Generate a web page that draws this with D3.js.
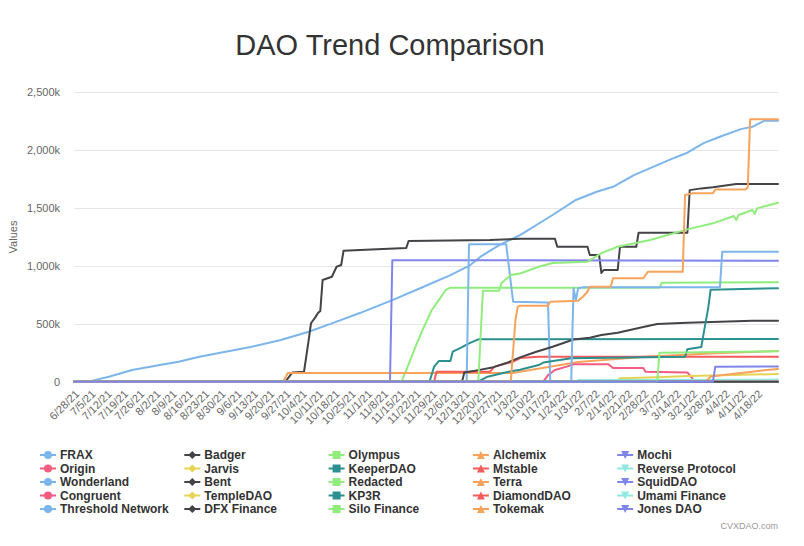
<!DOCTYPE html>
<html>
<head>
<meta charset="utf-8">
<script src="https://cdn.jsdelivr.net/npm/d3@7"></script>
<style>
  body { margin: 0; background: #fff; }
  svg { display: block; font-family: "Liberation Sans", Arial, sans-serif; }
</style>
</head>
<body>
<div id="chart"></div>
<script>
// values are in thousands
var tickLabels = ["6/28/21","7/5/21","7/12/21","7/19/21","7/26/21","8/2/21","8/9/21","8/16/21","8/23/21","8/30/21",
  "9/6/21","9/13/21","9/20/21","9/27/21","10/4/21","10/11/21","10/18/21","10/25/21","11/1/21","11/8/21",
  "11/15/21","11/22/21","11/29/21","12/6/21","12/13/21","12/20/21","12/27/21","1/3/22","1/10/22","1/17/22",
  "1/24/22","1/31/22","2/7/22","2/14/22","2/21/22","2/28/22","3/7/22","3/14/22","3/21/22","3/28/22",
  "4/4/22","4/11/22","4/18/22"];
var firstDay = "6/28/21", lastDay = "4/27/22";
var yTicks = [0, 500, 1000, 1500, 2000, 2500];

var frax = [["6/28/21",0],["7/5/21",5],["7/13/21",43],["7/23/21",101],["8/4/21",144],["8/12/21",173],["8/21/21",216],
  ["9/12/21",300],["9/25/21",360],["10/7/21",432],["10/17/21",504],["10/29/21",593],["11/12/21",705],["11/24/21",807],
  ["12/7/21",921],["12/15/21",1000],["12/20/21",1080],["12/28/21",1180],["1/6/22",1267],["1/20/22",1440],["1/30/22",1570],
  ["2/8/22",1641],["2/15/22",1684],["2/24/22",1785],["3/3/22",1845],["3/12/22",1923],["3/19/22",1978],["3/26/22",2061],
  ["4/2/22",2116],["4/11/22",2182],["4/16/22",2202],["4/21/22",2254],["4/27/22",2254]];
var badger = [["6/28/21",0],["9/27/21",0],["9/30/21",80],["10/5/21",86],["10/7/21",360],["10/8/21",505],["10/10/21",560],
  ["10/11/21",593],["10/12/21",610],["10/13/21",878],["10/17/21",907],["10/19/21",993],["10/21/21",1008],["10/22/21",1131],
  ["11/3/21",1143],["11/18/21",1155],["11/19/21",1215],["12/24/21",1224],["1/6/22",1235],["1/21/22",1235],["1/22/22",1166],
  ["2/4/22",1166],["2/5/22",1094],["2/9/22",1094],["2/10/22",939],["2/11/22",965],["2/17/22",965],["2/18/22",1166],
  ["2/25/22",1166],["2/26/22",1287],["3/19/22",1287],["3/20/22",1655],["3/25/22",1670],["3/30/22",1680],["4/9/22",1707],
  ["4/27/22",1707]];
var olympus = [["6/28/21",0],["11/16/21",0],["11/18/21",101],["11/22/21",302],["11/25/21",446],["11/29/21",619],
  ["12/2/21",705],["12/5/21",792],["12/7/21",812],["3/7/22",812],["3/8/22",855],["4/27/22",860]];
var alchemix = [["6/28/21",0],["9/26/21",0],["9/28/21",75],["1/3/22",75],["1/6/22",86],["1/31/22",170],["3/1/22",215],
  ["3/31/22",245],["4/27/22",265]];
var mochi = [["6/28/21",0],["11/11/21",0],["11/12/21",1050],["4/27/22",1045]];
var origin = [["6/28/21",0],["1/16/22",0],["1/18/22",57],["1/21/22",101],["1/26/22",130],["1/29/22",150],["2/13/22",150],
  ["2/15/22",118],["2/28/22",118],["3/1/22",86],["3/19/22",80],["3/21/22",32],["3/22/22",0],["4/27/22",0]];
var jarvis = [["6/28/21",0],["2/16/22",0],["2/18/22",29],["3/6/22",38],["3/20/22",49],["4/27/22",66]];
var keeperDAO = [["6/28/21",0],["11/28/21",0],["11/30/21",130],["12/2/21",178],["12/7/21",178],["12/8/21",259],
  ["12/11/21",288],["12/15/21",331],["12/19/21",366],["4/27/22",369]];
var mstable = [["6/28/21",0],["11/30/21",0],["12/1/21",86],["12/24/21",86],["12/26/21",130],["1/3/22",173],
  ["1/6/22",204],["1/14/22",216],["4/27/22",216]];
var reverseProtocol = [["6/28/21",0],["1/30/22",0],["1/31/22",15],["4/27/22",18]];
var wonderland = [["6/28/21",0],["12/14/21",0],["12/15/21",1187],["12/31/21",1187],["1/3/22",691],["1/18/22",685],
  ["1/19/22",0],["4/27/22",0]];
var bent = [["6/28/21",0],["12/12/21",0],["12/13/21",80],["12/19/21",100],["12/25/21",122],["12/31/21",161],["1/6/22",210],
  ["1/13/22",259],["1/20/22",302],["1/29/22",365],["2/5/22",380],["2/10/22",403],["2/17/22",423],["2/28/22",472],
  ["3/6/22",498],["3/19/22",510],["4/2/22",518],["4/16/22",527],["4/27/22",527]];
var redacted = [["6/28/21",0],["12/19/21",0],["12/21/21",786],["12/28/21",786],["12/29/21",852],["1/2/22",921],
  ["1/6/22",935],["1/14/22",993],["1/20/22",1025],["2/4/22",1036],["2/10/22",1111],["2/17/22",1166],["3/3/22",1224],
  ["3/19/22",1316],["3/30/22",1368],["4/8/22",1431],["4/9/22",1396],["4/10/22",1440],["4/16/22",1483],["4/17/22",1450],
  ["4/18/22",1497],["4/27/22",1546]];
var terra = [["6/28/21",0],["3/27/22",0],["3/29/22",45],["4/9/22",70],["4/16/22",86],["4/22/22",101],["4/27/22",110]];
var squidDAO = [["6/28/21",0],["4/27/22",0]];
var congruent = [["6/28/21",0],["4/27/22",0]];
var templeDAO = [["6/28/21",0],["4/27/22",0]];
var kp3r = [["6/28/21",0],["12/19/21",0],["12/23/21",43],["1/1/22",86],["1/6/22",104],["1/14/22",144],["1/16/22",165],
  ["1/28/22",202],["3/18/22",216],["3/19/22",280],["3/25/22",300],["3/26/22",418],["3/28/22",640],["3/29/22",795],
  ["4/27/22",807]];
var diamondDAO = [["6/28/21",0],["4/27/22",0]];
var umamiFinance = [["6/28/21",0],["4/27/22",0]];
var thresholdNetwork = [["6/28/21",0],["1/28/22",0],["1/29/22",807],["1/30/22",705],["1/31/22",807],["2/2/22",815],
  ["4/2/22",815],["4/3/22",1123],["4/27/22",1123]];
var dfxFinance = [["6/28/21",0],["4/27/22",0]];
var siloFinance = [["6/28/21",0],["3/6/22",0],["3/7/22",250],["4/27/22",262]];
var tokemak = [["6/28/21",0],["1/2/22",0],["1/4/22",533],["1/5/22",648],["1/6/22",657],["1/18/22",657],["1/19/22",691],
  ["1/31/22",700],["2/2/22",734],["2/4/22",777],["2/5/22",820],["2/14/22",820],["2/15/22",893],["2/28/22",893],
  ["3/2/22",950],["3/17/22",950],["3/18/22",1612],["3/21/22",1627],["3/30/22",1627],["3/31/22",1661],["4/13/22",1661],
  ["4/14/22",1680],["4/15/22",2268],["4/27/22",2268]];
var jonesDAO = [["6/28/21",0],["3/30/22",0],["3/31/22",130],["4/27/22",132]];

var seriesNames = ["FRAX","Badger","Olympus","Alchemix","Mochi","Origin","Jarvis","KeeperDAO","Mstable","Reverse Protocol",
  "Wonderland","Bent","Redacted","Terra","SquidDAO","Congruent","TempleDAO","KP3R","DiamondDAO","Umami Finance",
  "Threshold Network","DFX Finance","Silo Finance","Tokemak","Jones DAO"];
var seriesData = [frax, badger, olympus, alchemix, mochi, origin, jarvis, keeperDAO, mstable, reverseProtocol,
  wonderland, bent, redacted, terra, squidDAO, congruent, templeDAO, kp3r, diamondDAO, umamiFinance,
  thresholdNetwork, dfxFinance, siloFinance, tokemak, jonesDAO];
var palette = ["#7cb5ec","#434348","#90ed7d","#f7a35c","#8085e9","#f15c80","#e4d354","#2b908f","#f45b5b","#91e8e1"];
var symbols = ["circle","diamond","square","triangle","triangle-down"];

var W = 804, H = 546;
var margin = {top: 92.3, right: 26, bottom: 164.3, left: 74};
var parse = d3.timeParse("%m/%d/%y");

var svg = d3.select("#chart").append("svg").attr("width", W).attr("height", H);

var x = d3.scaleTime()
  .domain([parse(firstDay), parse(lastDay)])
  .range([margin.left, W - margin.right]);
var y = d3.scaleLinear()
  .domain([0, 2500])
  .range([H - margin.bottom, margin.top]);

// title
svg.append("text")
  .attr("x", 390).attr("y", 55)
  .attr("text-anchor", "middle")
  .style("font-size", "29px")
  .style("fill", "#333")
  .text("DAO Trend Comparison");

// grid + y labels
svg.append("g").selectAll("line").data(yTicks).enter().append("line")
  .attr("x1", margin.left).attr("x2", W - margin.right)
  .attr("y1", d => Math.round(y(d)) + 0.5).attr("y2", d => Math.round(y(d)) + 0.5)
  .attr("stroke", "#e6e6e6");
svg.append("g").selectAll("text").data(yTicks).enter().append("text")
  .attr("x", 60).attr("y", d => y(d) + 4)
  .attr("text-anchor", "end")
  .style("font-size", "11px").style("fill", "#666")
  .text(d => d === 0 ? "0" : d3.format(",")(d) + "k");

svg.append("text")
  .attr("transform", "translate(17," + y(1250) + ")rotate(-90)")
  .attr("text-anchor", "middle")
  .style("font-size", "11px").style("fill", "#666")
  .text("Values");

// x labels
svg.append("g").selectAll("text").data(tickLabels).enter().append("text")
  .attr("transform", d => "translate(" + (x(parse(d)) + 6) + "," + (H - margin.bottom + 13) + ")rotate(-45)")
  .attr("text-anchor", "end")
  .style("font-size", "11px").style("fill", "#666")
  .text(d => d);

// lines
var line = d3.line()
  .x(d => x(parse(d[0])))
  .y(d => y(d[1]));

svg.append("g").selectAll("path").data(seriesData).enter().append("path")
  .attr("d", line)
  .attr("fill", "none")
  .attr("stroke", (d, i) => palette[i % 10])
  .attr("stroke-width", 2)
  .attr("stroke-linejoin", "round")
  .attr("stroke-linecap", "round");

// legend
function markerPath(type, cx, cy) {
  var r = 4;
  if (type === "circle") return "M" + (cx - r) + "," + cy + "a" + r + "," + r + " 0 1,0 " + (2 * r) + ",0a" + r + "," + r + " 0 1,0 " + (-2 * r) + ",0Z";
  if (type === "diamond") return "M" + cx + "," + (cy - r) + "L" + (cx + r) + "," + cy + "L" + cx + "," + (cy + r) + "L" + (cx - r) + "," + cy + "Z";
  if (type === "square") return "M" + (cx - r) + "," + (cy - r) + "h" + (2 * r) + "v" + (2 * r) + "h" + (-2 * r) + "Z";
  if (type === "triangle") return "M" + cx + "," + (cy - r) + "L" + (cx + r) + "," + (cy + r) + "L" + (cx - r) + "," + (cy + r) + "Z";
  return "M" + (cx - r) + "," + (cy - r) + "L" + (cx + r) + "," + (cy - r) + "L" + cx + "," + (cy + r) + "Z";
}

var legend = svg.append("g");
seriesNames.forEach(function (name, i) {
  var col = i % 5, row = Math.floor(i / 5);
  var lx = 40 + col * 144.3, ly = 455 + row * 13.5;
  var color = palette[i % 10];
  var g = legend.append("g");
  g.append("line").attr("x1", lx).attr("x2", lx + 16).attr("y1", ly).attr("y2", ly)
    .attr("stroke", color).attr("stroke-width", 2);
  g.append("path").attr("d", markerPath(symbols[i % 5], lx + 8, ly)).attr("fill", color);
  g.append("text").attr("x", lx + 20).attr("y", ly + 4)
    .style("font-size", "12px").style("font-weight", "bold").style("fill", "#333")
    .text(name);
});

svg.append("text")
  .attr("x", 778).attr("y", 529)
  .attr("text-anchor", "end")
  .style("font-size", "9px").style("fill", "#999")
  .text("CVXDAO.com");
</script>
</body>
</html>
